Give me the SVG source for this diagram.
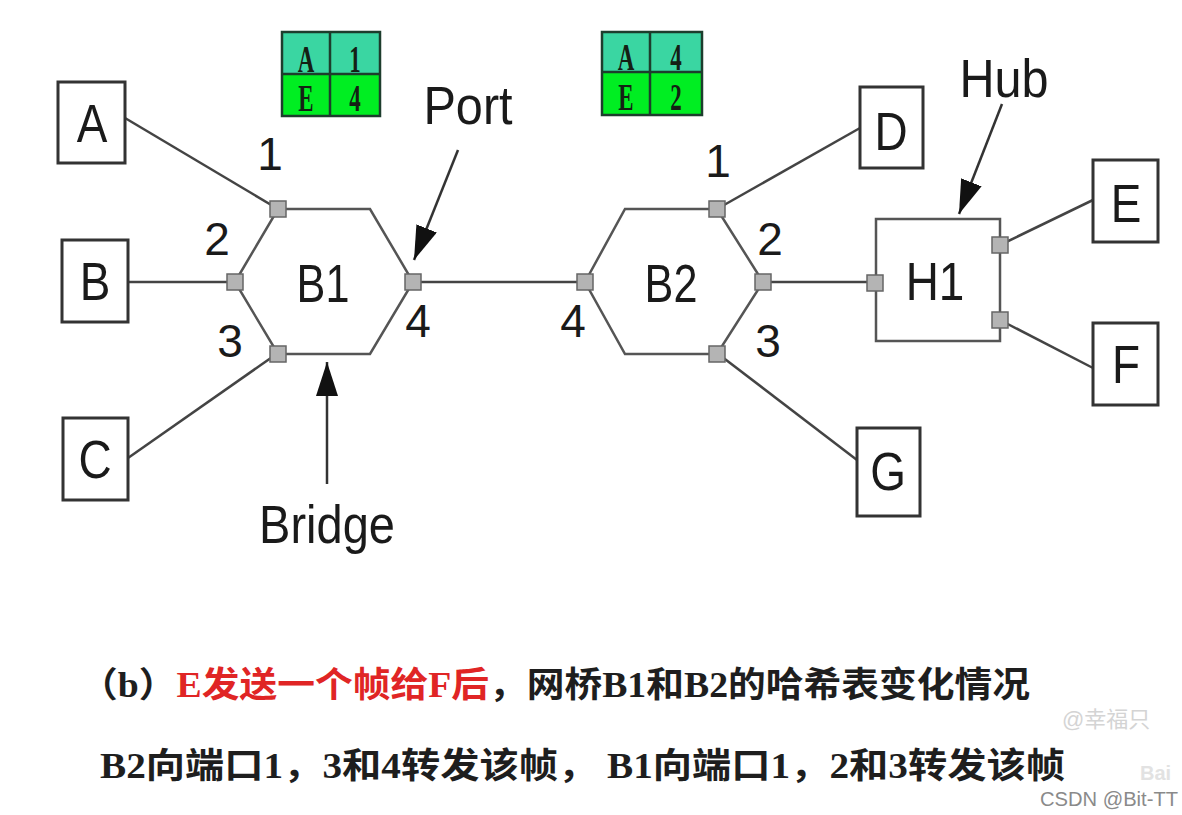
<svg xmlns="http://www.w3.org/2000/svg" width="1182" height="815" viewBox="0 0 1182 815">
<style>
.box{fill:#fff;stroke:#333;stroke-width:3}
.hex{fill:#fff;stroke:#555;stroke-width:2.5}
.port{fill:#b4b4b4;stroke:#666;stroke-width:1.5}
.link{stroke:#444;stroke-width:2.5;fill:none}
.arr{stroke:#333;stroke-width:2.5;fill:none}
.lbl{font-family:"Liberation Sans",Arial,sans-serif;font-size:54px;fill:#1a1a1a;text-anchor:middle}
.num{font-family:"Liberation Sans",Arial,sans-serif;font-size:46px;fill:#1a1a1a;text-anchor:middle}
.tt{font-family:"Liberation Serif","Times New Roman",serif;font-size:37px;font-weight:bold;fill:#142014;text-anchor:middle}
.tr1{fill:#3ad6a2}
.tr2{fill:#00ee22}
.tgrid{fill:none;stroke:#1d3d2d;stroke-width:2.5}
.cap{font-family:"Liberation Serif","Noto Sans CJK SC",serif;font-size:35px;font-weight:bold;fill:#1e1e1e}
.wm{font-family:"Liberation Sans","Noto Sans CJK SC",sans-serif}
</style>
<defs>
<marker id="ah" markerUnits="userSpaceOnUse" markerWidth="36" markerHeight="22" refX="34" refY="11" orient="auto"><path d="M0,0 L34,11 L0,22 z" fill="#111"/></marker>
</defs>
<rect width="1182" height="815" fill="#fff"/>

<g id="connectors">
<path class="link" d="M125,118 L278,209"/>
<path class="link" d="M128,282 L235,282"/>
<path class="link" d="M128,458 L278,353"/>
<path class="link" d="M413,282 L585,282"/>
<path class="link" d="M717,209 L860,128"/>
<path class="link" d="M717,353 L857,460"/>
<path class="link" d="M763,282 L875,282"/>
<path class="link" d="M1000,245 L1093,200"/>
<path class="link" d="M1000,320 L1093,368"/>
<path class="arr" d="M458,150 L414,260" marker-end="url(#ah)"/>
<path class="arr" d="M1002,104 L959,214" marker-end="url(#ah)"/>
<path class="arr" d="M327,484 L327,362" marker-end="url(#ah)"/>
</g>

<g id="A"><rect class="box" x="58" y="82" width="67" height="81"/><text class="lbl" transform="translate(92,142) scale(.85,1)">A</text></g>
<g id="B"><rect class="box" x="62" y="240" width="66" height="82"/><text class="lbl" transform="translate(95,300) scale(.85,1)">B</text></g>
<g id="C"><rect class="box" x="63" y="418" width="65" height="82"/><text class="lbl" transform="translate(95,478) scale(.85,1)">C</text></g>
<g id="D"><rect class="box" x="860" y="87" width="63" height="81"/><text class="lbl" transform="translate(891,150) scale(.85,1)">D</text></g>
<g id="E"><rect class="box" x="1093" y="160" width="65" height="82"/><text class="lbl" transform="translate(1126,222) scale(.85,1)">E</text></g>
<g id="F"><rect class="box" x="1093" y="323" width="65" height="82"/><text class="lbl" transform="translate(1126,383) scale(.85,1)">F</text></g>
<g id="G"><rect class="box" x="857" y="428" width="63" height="88"/><text class="lbl" transform="translate(888,490) scale(.85,1)">G</text></g>

<g id="B1">
<polygon class="hex" points="235,282 278,209 370,209 413,282 370,354 278,354"/>
<rect class="port" x="270" y="201" width="16" height="16"/>
<rect class="port" x="227" y="274" width="16" height="16"/>
<rect class="port" x="270" y="346" width="16" height="16"/>
<rect class="port" x="405" y="274" width="16" height="16"/>
<text class="lbl" transform="translate(323,302) scale(.8,1)">B1</text>
<text class="num" x="270" y="170">1</text>
<text class="num" x="217" y="255">2</text>
<text class="num" x="230" y="357">3</text>
<text class="num" x="418" y="337">4</text>
</g>

<g id="B2">
<polygon class="hex" points="585,282 625,209 717,209 763,282 717,354 625,354"/>
<rect class="port" x="709" y="201" width="16" height="16"/>
<rect class="port" x="755" y="274" width="16" height="16"/>
<rect class="port" x="709" y="346" width="16" height="16"/>
<rect class="port" x="577" y="274" width="16" height="16"/>
<text class="lbl" transform="translate(671,302) scale(.8,1)">B2</text>
<text class="num" x="718" y="177">1</text>
<text class="num" x="770" y="255">2</text>
<text class="num" x="768" y="357">3</text>
<text class="num" x="573" y="337">4</text>
</g>

<g id="H1">
<rect x="876" y="219" width="124" height="122" fill="#fff" stroke="#555" stroke-width="2.5"/>
<rect class="port" x="867" y="275" width="16" height="16"/>
<rect class="port" x="992" y="237" width="16" height="16"/>
<rect class="port" x="992" y="312" width="16" height="16"/>
<text class="lbl" transform="translate(935,300) scale(.85,1)">H1</text>
</g>

<g id="labels">
<text class="lbl" transform="translate(468,124) scale(.9,1)">Port</text>
<text class="lbl" transform="translate(1004,97) scale(.9,1)">Hub</text>
<text class="lbl" transform="translate(327,543) scale(.87,1)">Bridge</text>
</g>

<g id="table1">
<rect class="tr1" x="282" y="32" width="98" height="42"/>
<rect class="tr2" x="282" y="74" width="98" height="42"/>
<rect class="tgrid" x="282" y="32" width="98" height="84"/>
<path class="tgrid" d="M330,32 V116 M282,74 H380"/>
<text class="tt" transform="translate(306,72) scale(.62,1)">A</text>
<text class="tt" transform="translate(355,72) scale(.62,1)">1</text>
<text class="tt" transform="translate(306,111) scale(.62,1)">E</text>
<text class="tt" transform="translate(355,111) scale(.62,1)">4</text>
</g>

<g id="table2">
<rect class="tr1" x="602" y="32" width="100" height="40"/>
<rect class="tr2" x="602" y="72" width="100" height="43"/>
<rect class="tgrid" x="602" y="32" width="100" height="83"/>
<path class="tgrid" d="M650,32 V115 M602,72 H702"/>
<text class="tt" transform="translate(626,70) scale(.62,1)">A</text>
<text class="tt" transform="translate(676,70) scale(.62,1)">4</text>
<text class="tt" transform="translate(626,110) scale(.62,1)">E</text>
<text class="tt" transform="translate(676,110) scale(.62,1)">2</text>
</g>

<g id="caption">
<text class="cap" x="80" y="697" textLength="950" lengthAdjust="spacingAndGlyphs">（b）<tspan fill="#e02525">E发送一个帧给F后</tspan>，网桥B1和B2的哈希表变化情况</text>
<text class="cap" x="100" y="778" textLength="965" lengthAdjust="spacingAndGlyphs">B2向端口1，3和4转发该帧， B1向端口1，2和3转发该帧</text>
</g>

<g id="watermarks">
<text class="wm" x="1062" y="727" font-size="22" fill="#d4d4d4">@幸福只</text>
<text class="wm" x="1140" y="780" font-size="20" font-weight="bold" fill="#e2e2e2">Bai</text>
<text class="wm" x="1040" y="806" font-size="20" fill="#8a8a8a" textLength="138" lengthAdjust="spacingAndGlyphs">CSDN @Bit-TT</text>
</g>
</svg>
